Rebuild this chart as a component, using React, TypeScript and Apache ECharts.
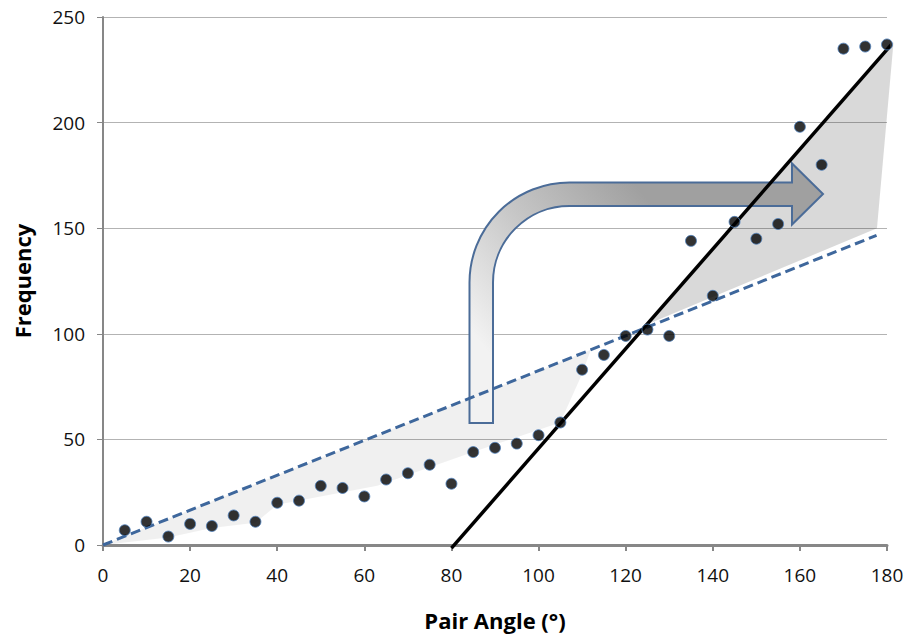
import React, { useEffect, useRef } from "react";
import * as echarts from "echarts";

const FONT = "'Open Sans', 'Noto Sans', Lato, sans-serif";

const angles = [5, 10, 15, 20, 25, 30, 35, 40, 45, 50, 55, 60, 65, 70, 75, 80, 85, 90, 95, 100, 105, 110, 115, 120, 125, 130, 135, 140, 145, 150, 155, 160, 165, 170, 175, 180];
const frequency = [7, 11, 4, 10, 9, 14, 11, 20, 21, 28, 27, 23, 31, 34, 38, 29, 44, 46, 48, 52, 58, 83, 90, 99, 102, 99, 144, 118, 153, 145, 152, 198, 180, 235, 236, 237];

const dashedFit = [[0, 0], [177.6, 146.6]];
const solidFit = [[80, -1.5], [181.8, 238.8]];

const lowBand = [[0, 0], [15, 3.5], [25, 8], [35, 10.5], [40, 19], [63, 28], [85, 44], [105, 58], [110, 81], [112, 92.4]];
const highBand = [[125, 104.5], [181.5, 238], [177.7, 150]];

const arrowPath =
  "M469.5 423 L469.5 282.5 A100 100 0 0 1 569.5 182.5 L792 182.5 L792 163.5 L823 194 L792 224.5 L792 206 L569.5 206 A76.5 76.5 0 0 0 493 282.5 L493 423 Z";

echarts.graphic.registerShape("bentArrow", echarts.graphic.extendPath(arrowPath, {}));

function bandSeries(points: number[][], fill: string) {
  return {
    type: "custom",
    coordinateSystem: "cartesian2d",
    clip: false,
    z: 1,
    silent: true,
    data: points,
    renderItem: (params: any, api: any) => {
      if (params.dataIndex !== 0) return null;
      const pts = points.map((p) => api.coord(p));
      return { type: "polygon", shape: { points: pts }, style: { fill } };
    },
  };
}

export default function App() {
  const ref = useRef<HTMLDivElement>(null);
  useEffect(() => {
    if (!ref.current) return;
    const chart = echarts.init(ref.current, undefined, { renderer: "svg" });
    const gradient = new echarts.graphic.LinearGradient(
      470, 330, 640, 190,
      [
        { offset: 0, color: "#f2f2f2" },
        { offset: 0.5, color: "#c6c6c6" },
        { offset: 1, color: "#a0a0a0" },
      ],
      true
    );
    chart.setOption({
      animation: false,
      backgroundColor: "#ffffff",
      textStyle: { fontFamily: FONT },
      grid: { left: 103, right: 22, top: 17, bottom: 92, containLabel: false },
      xAxis: {
        type: "value",
        min: 0,
        max: 180,
        interval: 20,
        name: "Pair Angle (°)",
        nameLocation: "middle",
        nameGap: 64,
        nameTextStyle: { fontSize: 22, fontWeight: "bold", color: "#000", fontFamily: FONT },
        axisLine: { show: true, lineStyle: { color: "#878787", width: 3 } },
        axisTick: { show: true, length: 6, lineStyle: { color: "#878787", width: 2 } },
        axisLabel: { fontSize: 19, color: "#111", margin: 20, fontFamily: FONT },
        splitLine: { show: false },
      },
      yAxis: {
        type: "value",
        min: 0,
        max: 250,
        interval: 50,
        name: "Frequency",
        nameLocation: "middle",
        nameGap: 70,
        nameTextStyle: { fontSize: 22, fontWeight: "bold", color: "#000", fontFamily: FONT },
        axisLine: { show: true, lineStyle: { color: "#878787", width: 2 } },
        axisTick: { show: true, length: 6, lineStyle: { color: "#878787", width: 1 } },
        axisLabel: { fontSize: 19, color: "#111", margin: 18, fontFamily: FONT },
        splitLine: { show: true, lineStyle: { color: "#b3b3b3", width: 1 } },
      },
      graphic: [
        {
          type: "bentArrow",
          x: 0,
          y: 0,
          z: 3,
          silent: true,
          style: { fill: gradient, stroke: "#4b6c98", lineWidth: 2 },
        },
      ],
      series: [
        bandSeries(lowBand, "rgba(0,0,0,0.06)"),
        bandSeries(highBand, "rgba(0,0,0,0.15)"),
        {
          type: "line",
          data: dashedFit,
          symbol: "none",
          clip: false,
          z: 4,
          lineStyle: { color: "#3e679c", width: 3, type: [10, 5] },
        },
        {
          type: "line",
          data: solidFit,
          symbol: "none",
          clip: false,
          z: 5,
          lineStyle: { color: "#000", width: 3.5 },
        },
        {
          type: "scatter",
          data: angles.map((a, i) => [a, frequency[i]]),
          symbol: "circle",
          symbolSize: 11,
          z: 6,
          itemStyle: { color: "#000", borderColor: "#4f81bd", borderWidth: 1 },
        },
      ],
    });
    return () => chart.dispose();
  }, []);
  return (
    <div
      ref={ref}
      style={{ position: "fixed", left: 0, top: 0, width: 909, height: 637 }}
    />
  );
}
